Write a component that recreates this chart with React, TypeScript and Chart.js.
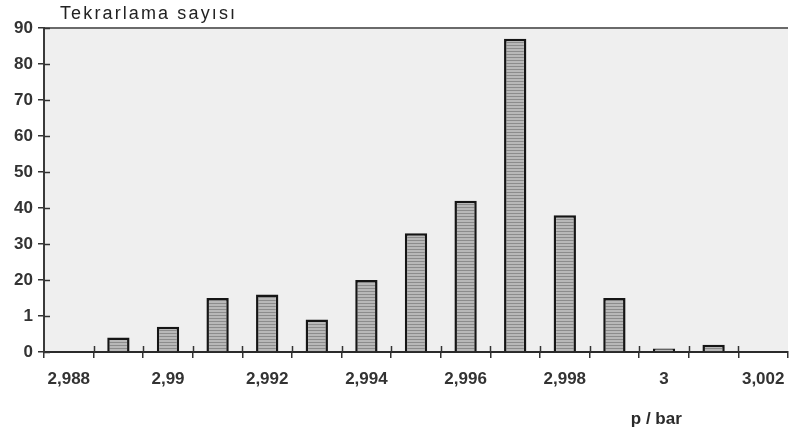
import React, { useEffect, useRef } from "react";
import { Chart, registerables } from "chart.js";

Chart.register(...registerables);

const categories = [
  "2,988", "2,989", "2,99", "2,991", "2,992", "2,993", "2,994", "2,995",
  "2,996", "2,997", "2,998", "2,999", "3", "3,001", "3,002",
];
const counts: (number | null)[] = [
  null, 4, 7, 15, 16, 9, 20, 33, 42, 87, 38, 15, 1, 2, null,
];
const yTickLabels = ["0", "1", "20", "30", "40", "50", "60", "70", "80", "90"];
const yTitle = "Tekrarlama sayısı";
const xTitle = "p / bar";

const FONT = "'Liberation Sans', Arial, sans-serif";

function makePattern(): CanvasPattern | string {
  const c = document.createElement("canvas");
  c.width = 4;
  c.height = 3;
  const g = c.getContext("2d");
  if (!g) return "#b0b0b0";
  g.fillStyle = "#b8b8b8";
  g.fillRect(0, 0, 4, 3);
  g.fillStyle = "#8c8c8c";
  g.fillRect(0, 0, 4, 1);
  const p = g.createPattern(c, "repeat");
  return p || "#b0b0b0";
}

const decorPlugin = {
  id: "decor",
  beforeDraw(chart: any) {
    const { ctx, chartArea } = chart;
    ctx.save();
    ctx.fillStyle = "#efefef";
    ctx.fillRect(chartArea.left, chartArea.top, chartArea.right - chartArea.left, chartArea.bottom - chartArea.top);
    ctx.strokeStyle = "#6a6a6a";
    ctx.lineWidth = 2;
    ctx.beginPath();
    ctx.moveTo(chartArea.left, chartArea.top);
    ctx.lineTo(chartArea.right, chartArea.top);
    ctx.stroke();
    ctx.restore();
  },
  afterDraw(chart: any) {
    const { ctx, chartArea, scales } = chart;
    const x = scales.x;
    const y = scales.y;
    ctx.save();
    ctx.strokeStyle = "#333";
    ctx.lineWidth = 1.5;
    for (let v = 0; v <= 90; v += 10) {
      const py = Math.round(y.getPixelForValue(v)) + 0.5;
      ctx.beginPath();
      ctx.moveTo(chartArea.left, py);
      ctx.lineTo(chartArea.left + 6, py);
      ctx.stroke();
    }
    const step = x.getPixelForValue(1) - x.getPixelForValue(0);
    for (let i = 1; i < categories.length; i++) {
      const px = Math.round(x.getPixelForValue(i) - step / 2) + 0.5;
      ctx.beginPath();
      ctx.moveTo(px, chartArea.bottom);
      ctx.lineTo(px, chartArea.bottom - 6);
      ctx.stroke();
    }
    ctx.fillStyle = "#222";
    ctx.font = `18px ${FONT}`;
    ctx.textAlign = "left";
    ctx.textBaseline = "alphabetic";
    const w = ctx.measureText(yTitle).width;
    const target = 175;
    (ctx as any).letterSpacing = `${Math.max(0, (target - w) / (yTitle.length - 1))}px`;
    ctx.fillText(yTitle, chartArea.left + 16, chartArea.top - 9);
    (ctx as any).letterSpacing = "0px";
    ctx.font = `bold 17px ${FONT}`;
    ctx.textAlign = "center";
    ctx.fillStyle = "#2a2a2a";
    ctx.fillText(xTitle, chartArea.left + (chartArea.right - chartArea.left) * 0.823, chartArea.bottom + 72);
    ctx.restore();
  },
};

export default function App() {
  const ref = useRef<HTMLCanvasElement>(null);
  useEffect(() => {
    if (!ref.current) return;
    const chart = new Chart(ref.current, {
      type: "bar",
      data: {
        labels: categories,
        datasets: [
          {
            data: counts,
            backgroundColor: makePattern() as any,
            borderColor: "#151515",
            borderWidth: 2.5,
            barPercentage: 0.45,
            categoryPercentage: 1,
          },
        ],
      },
      options: {
        animation: false,
        responsive: false,
        maintainAspectRatio: false,
        layout: { padding: { top: 28, right: 1, left: 0, bottom: 0 } },
        plugins: { legend: { display: false }, tooltip: { enabled: false }, title: { display: false } },
        scales: {
          x: {
            type: "category",
            offset: true,
            grid: { offset: true, drawOnChartArea: false, tickLength: 6, color: "#333", lineWidth: 1.5 },
            border: { color: "#2a2a2a", width: 2 },
            ticks: {
              autoSkip: false,
              maxRotation: 0,
              minRotation: 0,
              padding: 11,
              color: "#333",
              font: { size: 17, weight: "bold", family: FONT },
              callback: (_v: any, i: number) => (i % 2 === 0 ? categories[i] : ""),
            },
            afterFit: (s: any) => {
              s.height = 82;
              s.paddingLeft = 0;
              s.paddingRight = 0;
            },
          },
          y: {
            min: 0,
            max: 90,
            grid: { drawOnChartArea: false, tickLength: 6, color: "#333", lineWidth: 1.5 },
            border: { color: "#3a3a3a", width: 2 },
            ticks: {
              stepSize: 10,
              padding: 5,
              color: "#333",
              font: { size: 17, weight: "bold", family: FONT },
              callback: (_v: any, i: number) => yTickLabels[i],
            },
            afterFit: (s: any) => {
              s.width = 44;
            },
          },
        },
      },
      plugins: [decorPlugin],
    });
    return () => chart.destroy();
  }, []);
  return (
    <div style={{ position: "absolute", left: 0, top: 0, width: 789, height: 434, background: "#fff" }}>
      <canvas ref={ref} width={789} height={434} />
    </div>
  );
}
